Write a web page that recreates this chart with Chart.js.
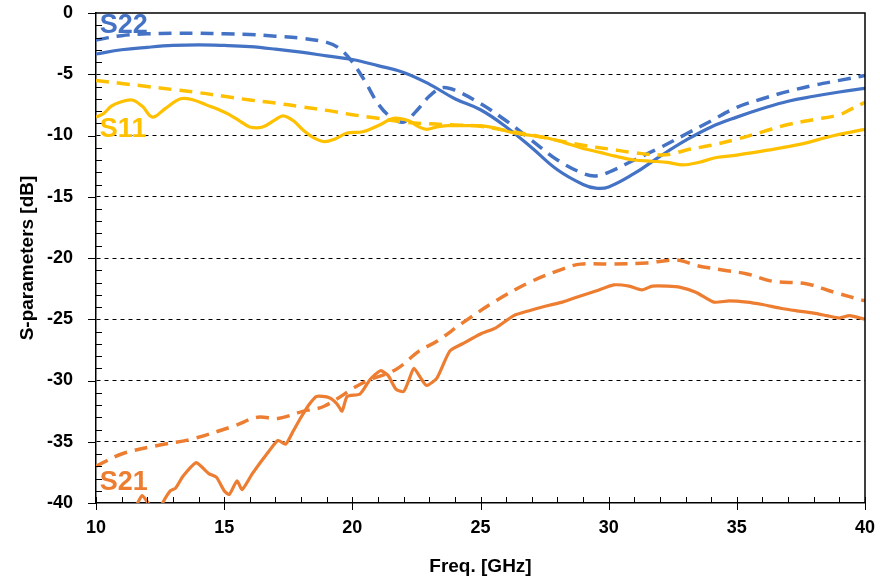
<!DOCTYPE html>
<html><head><meta charset="utf-8">
<script src="https://cdn.jsdelivr.net/npm/chart.js@4"></script>
<style>html,body{margin:0;padding:0;background:#fff}#wrap{width:880px;height:582px;position:relative}</style>
</head><body><div id="wrap"><canvas id="c"></canvas></div>
<script>
// ---- data (frequency in GHz, value in dB) ----
const xTicks = [10, 15, 20, 25, 30, 35, 40];
const yTicks = [0, -5, -10, -15, -20, -25, -30, -35, -40];

const s22SimF  = [10, 11, 12, 13, 14, 15, 16, 17, 18, 19, 19.5, 20, 20.5, 21, 21.5, 22, 22.5, 23, 23.5, 24, 25, 26, 27, 28, 29, 29.5, 30, 31, 32, 33, 34, 35, 36, 37, 38, 39, 40];
const s22SimDb = [-2.2, -1.85, -1.7, -1.65, -1.65, -1.7, -1.75, -1.9, -2.05, -2.4, -2.9, -4.0, -5.6, -7.4, -8.5, -8.9, -8.0, -6.8, -6.1, -6.3, -7.4, -8.8, -10.4, -12.0, -13.1, -13.3, -13.0, -12.0, -11.0, -9.9, -8.8, -7.7, -7.0, -6.4, -5.9, -5.5, -5.1];

const s22MeasF  = [10, 11, 12, 13, 14, 15, 16, 17, 18, 19, 20, 21, 22, 23, 24, 25, 26, 27, 28, 29, 29.5, 30, 31, 32, 33, 34, 35, 36, 37, 38, 39, 40];
const s22MeasDb = [-3.35, -3.0, -2.8, -2.65, -2.6, -2.65, -2.75, -2.95, -3.2, -3.5, -3.8, -4.3, -4.85, -5.8, -7.0, -7.9, -9.3, -11.0, -12.8, -14.0, -14.3, -14.2, -13.1, -11.7, -10.4, -9.3, -8.5, -7.8, -7.2, -6.8, -6.45, -6.15];

const s11SimF  = [10, 11, 12, 13, 14, 15, 16, 17, 18, 19, 20, 21, 22, 23, 24, 25, 26, 27, 28, 29, 30, 31, 32, 32.5, 33, 34, 35, 36, 37, 38, 39, 39.5, 40];
const s11SimDb = [-5.5, -5.75, -6.0, -6.25, -6.5, -6.8, -7.1, -7.35, -7.65, -7.95, -8.3, -8.6, -8.9, -9.05, -9.15, -9.25, -9.6, -9.95, -10.4, -10.8, -11.1, -11.4, -11.6, -11.5, -11.2, -10.8, -10.3, -9.7, -9.1, -8.7, -8.3, -7.8, -7.3];

const s11MeasF  = [10, 10.3, 10.6, 10.9, 11.4, 11.8, 12.2, 12.7, 13.3, 13.8, 14.3, 14.8, 15.2, 15.6, 16.0, 16.5, 17.0, 17.3, 17.7, 18.1, 18.5, 18.9, 19.3, 19.8, 20.4, 21.1, 21.6, 22.2, 22.6, 22.9, 23.3, 23.7, 24.5, 25.0, 25.6, 26.3, 27.0, 27.6, 28.3, 28.9, 29.7, 30.3, 31.0, 31.7, 32.3, 32.9, 33.5, 34.2, 35.0, 36.2, 37.5, 38.8, 40];
const s11MeasDb = [-8.5, -8.2, -7.6, -7.3, -7.1, -7.6, -8.5, -7.8, -7.0, -7.1, -7.5, -7.9, -8.3, -8.8, -9.3, -9.3, -8.7, -8.4, -8.8, -9.6, -10.2, -10.5, -10.3, -9.8, -9.7, -9.1, -8.6, -8.8, -9.3, -9.5, -9.3, -9.2, -9.2, -9.2, -9.4, -9.8, -10.0, -10.2, -10.6, -11.0, -11.4, -11.7, -12.0, -12.1, -12.2, -12.4, -12.2, -11.8, -11.6, -11.2, -10.7, -10.0, -9.5];

const s21SimF  = [10, 11, 12.4, 13.7, 15.4, 16.3, 17.1, 18.1, 18.9, 20.4, 21.7, 22.6, 23.3, 24.3, 25.6, 26.9, 28.2, 28.9, 30.2, 31.5, 32.3, 32.8, 33.4, 34.5, 35.4, 36.4, 37.7, 38.8, 40];
const s21SimDb = [-37.0, -36.0, -35.3, -34.8, -33.7, -33.0, -33.1, -32.5, -32.1, -30.2, -29.1, -27.6, -26.8, -25.3, -23.5, -22.0, -20.9, -20.5, -20.5, -20.4, -20.2, -20.2, -20.6, -21.0, -21.3, -21.9, -22.1, -22.8, -23.5];

const s21MeasF  = [10, 11, 11.5, 11.8, 12.1, 12.4, 12.6, 12.9, 13.1, 13.4, 13.9, 14.1, 14.4, 14.7, 15.0, 15.2, 15.5, 15.7, 16.1, 16.7, 17.1, 17.4, 17.7, 18.0, 18.3, 18.6, 19.1, 19.4, 19.6, 19.8, 20.3, 20.7, 21.1, 21.4, 21.7, 22.0, 22.2, 22.4, 22.7, 22.9, 23.3, 23.8, 24.3, 25.0, 25.6, 26.3, 26.9, 27.6, 28.2, 28.9, 29.5, 30.2, 30.8, 31.3, 31.7, 32.3, 32.8, 33.4, 34.1, 34.7, 35.4, 36.0, 36.7, 37.3, 38.0, 38.5, 39.0, 39.4, 40];
const s21MeasDb = [-42.0, -41.5, -40.5, -39.4, -40.2, -41.0, -40.0, -39.0, -38.8, -37.8, -36.7, -37.0, -37.6, -37.9, -39.0, -39.3, -38.2, -38.9, -37.6, -35.9, -34.9, -35.2, -34.1, -33.0, -32.0, -31.3, -31.4, -31.9, -32.5, -31.3, -31.1, -29.9, -29.2, -29.6, -30.7, -30.9, -30.0, -29.0, -29.9, -30.4, -29.8, -27.6, -27.0, -26.2, -25.7, -24.7, -24.3, -23.9, -23.6, -23.1, -22.7, -22.2, -22.3, -22.6, -22.3, -22.3, -22.4, -22.8, -23.6, -23.5, -23.6, -23.8, -24.1, -24.3, -24.5, -24.7, -24.9, -24.7, -25.0];

const seriesLabels = ['S22', 'S11', 'S21'];
const labelAnchorsF  = [10.15, 10.15, 10.15];
const labelAnchorsDb = [-1.0, -9.5, -38.3];

const BLUE = '#4472C4', YELLOW = '#FFC000', ORANGE = '#ED7D31';
const FONT = '"Liberation Sans", Arial, sans-serif';

function pts(f, d) { return f.map((x, i) => ({x: x, y: d[i]})); }

const dash = [13, 8];
const datasets = [
  {label: 'S11 meas', data: pts(s11MeasF, s11MeasDb), borderColor: YELLOW, borderWidth: 3.2, tension: 0.35},
  {label: 'S11 sim', data: pts(s11SimF, s11SimDb), borderColor: YELLOW, borderWidth: 3.5, borderDash: dash, tension: 0.4},
  {label: 'S22 sim', data: pts(s22SimF, s22SimDb), borderColor: BLUE, borderWidth: 3.5, borderDash: dash, tension: 0.35},
  {label: 'S22 meas', data: pts(s22MeasF, s22MeasDb), borderColor: BLUE, borderWidth: 3.2, tension: 0.4},
  {label: 'S21 sim', data: pts(s21SimF, s21SimDb), borderColor: ORANGE, borderWidth: 3.5, borderDash: dash, tension: 0.35},
  {label: 'S21 meas', data: pts(s21MeasF, s21MeasDb), borderColor: ORANGE, borderWidth: 3.2, tension: 0.2}
].map(d => Object.assign({pointRadius: 0, fill: false}, d));

const decor = {
  id: 'decor',
  afterDraw(chart) {
    const {ctx, chartArea: a, scales: {x, y}} = chart;
    ctx.save();
    ctx.strokeStyle = '#000';
    ctx.lineWidth = 1.5;
    ctx.beginPath();
    ctx.moveTo(a.left, a.top); ctx.lineTo(a.right, a.top); ctx.lineTo(a.right, a.bottom);
    ctx.stroke();
    ctx.lineWidth = 1;
    ctx.beginPath();
    for (let v = -39; v <= -1; v++) {
      if (v % 5 === 0) continue;
      const py = Math.round(y.getPixelForValue(v)) + 0.5;
      ctx.moveTo(a.left, py); ctx.lineTo(a.left + 6, py);
    }
    yTicks.forEach(v => {
      const py = Math.round(y.getPixelForValue(v)) + 0.5;
      ctx.moveTo(a.left - 8, py); ctx.lineTo(a.left, py);
    });
    for (let f = 11; f <= 39; f++) {
      const px = Math.round(x.getPixelForValue(f)) + 0.5;
      ctx.moveTo(px, a.bottom); ctx.lineTo(px, a.bottom - 6);
    }
    xTicks.forEach(f => {
      const px = Math.round(x.getPixelForValue(f)) + 0.5;
      ctx.moveTo(px, a.bottom - 6); ctx.lineTo(px, a.bottom + 7);
    });
    ctx.stroke();
    ctx.font = 'bold 27px ' + FONT;
    ctx.textBaseline = 'middle';
    ctx.textAlign = 'left';
    const cols = [BLUE, YELLOW, ORANGE];
    seriesLabels.forEach((t, i) => {
      ctx.fillStyle = cols[i];
      ctx.fillText(t, x.getPixelForValue(labelAnchorsF[i]), y.getPixelForValue(labelAnchorsDb[i]));
    });
    ctx.restore();
  }
};

new Chart(document.getElementById('c'), {
  type: 'line',
  data: {datasets},
  plugins: [decor],
  options: {
    responsive: true, maintainAspectRatio: false, animation: false, devicePixelRatio: 1,
    layout: {padding: {left: 12, top: 13, right: 15, bottom: 0}},
    plugins: {legend: {display: false}, tooltip: {enabled: false}},
    scales: {
      x: {
        type: 'linear', min: 10, max: 40,
        afterBuildTicks: s => { s.ticks = xTicks.map(v => ({value: v})); },
        afterFit: s => { s.height = 79; },
        grid: {drawOnChartArea: false, color: '#000', tickColor: 'rgba(0,0,0,0)', tickLength: 11, lineWidth: 1, tickBorderDash: []},
        border: {display: true, color: '#000', width: 1.5},
        ticks: {color: '#000', font: {family: FONT, size: 18, weight: 'bold'}, padding: 3, maxRotation: 0},
        title: {display: true, text: 'Freq. [GHz]', color: '#000', font: {family: FONT, size: 19, weight: 'bold'}}
      },
      y: {
        type: 'linear', min: -40, max: 0,
        afterBuildTicks: s => { s.ticks = yTicks.map(v => ({value: v})); },
        afterFit: s => { s.width = 84; },
        grid: {
          color: c => (c.tick && (c.tick.value === 0 || c.tick.value === -40)) ? 'rgba(0,0,0,0)' : '#000',
          tickColor: 'rgba(0,0,0,0)', tickLength: 23, lineWidth: 1, tickBorderDash: []
        },
        border: {display: true, color: '#000', width: 1.5, dash: [4, 4]},
        ticks: {color: '#000', font: {family: FONT, size: 18, weight: 'bold'}, padding: 0},
        title: {display: true, text: 'S-parameters [dB]', color: '#000', font: {family: FONT, size: 19, weight: 'bold'}}
      }
    }
  }
});
</script>
</body></html>
